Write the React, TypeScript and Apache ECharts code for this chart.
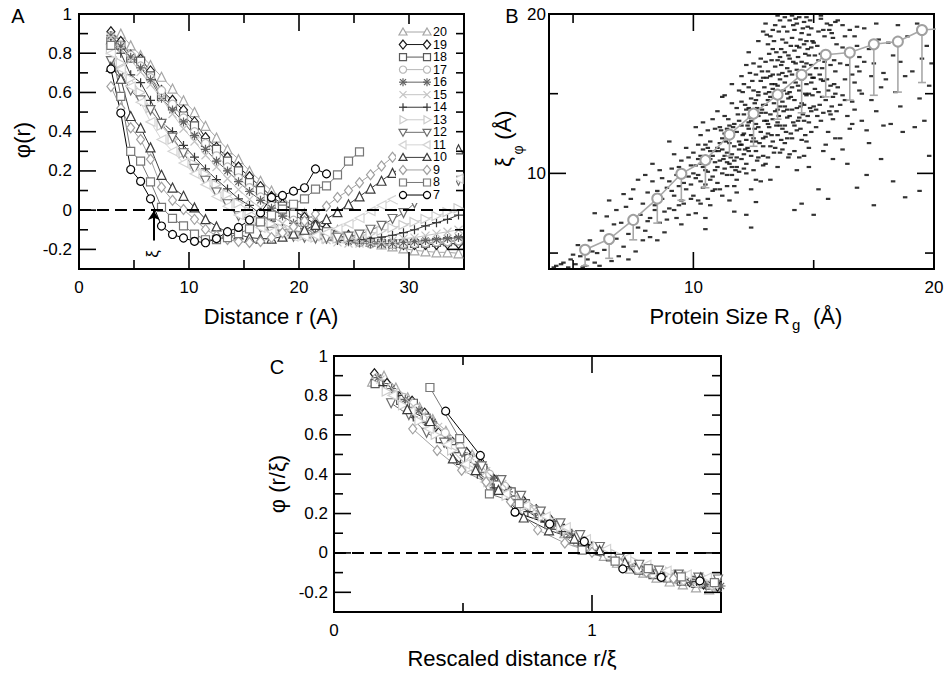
import React, { useEffect, useRef } from "react";
import * as echarts from "echarts";

const FONT = "'Liberation Sans', Arial, Helvetica, sans-serif";

// ---------- Panel A / C data ----------
const R_VALUES = [2.9, 3.8, 4.7, 5.6, 6.5, 7.5, 8.5, 9.5, 10.5, 11.5, 12.5, 13.5, 14.5, 15.5, 16.5, 17.5, 18.5, 19.5, 20.5, 21.5, 22.5, 23.5, 24.5, 25.5, 26.5, 27.5, 28.5, 29.5, 30.5, 31.5, 32.5, 33.5, 34.5];

const SIZE_LABELS = ["20", "19", "18", "17", "16", "15", "14", "13", "12", "11", "10", "9", "8", "7"];

const PHI_20 = [0.87, 0.9, 0.84, 0.79, 0.74, 0.68, 0.62, 0.56, 0.5, 0.43, 0.37, 0.31, 0.26, 0.2, 0.15, 0.1, 0.06, 0.02, -0.015, -0.05, -0.08, -0.1, -0.125, -0.145, -0.16, -0.175, -0.185, -0.195, -0.205, -0.21, -0.215, -0.215, -0.22];
const PHI_19 = [0.91, 0.86, 0.79, 0.77, 0.71, 0.61, 0.56, 0.51, 0.45, 0.37, 0.32, 0.27, 0.22, 0.17, 0.12, 0.07, 0.03, 0.0, -0.036, -0.073, -0.09, -0.112, -0.129, -0.146, -0.158, -0.168, -0.172, -0.175, -0.175, -0.175, -0.175, -0.172, -0.17];
const PHI_18 = [0.86, 0.84, 0.775, 0.76, 0.685, 0.58, 0.53, 0.48, 0.43, 0.345, 0.31, 0.25, 0.2, 0.14, 0.1, 0.06, 0.02, -0.02, -0.058, -0.087, -0.11, -0.127, -0.143, -0.155, -0.164, -0.17, -0.172, -0.172, -0.17, -0.168, -0.165, -0.16, -0.155];
const PHI_17 = [0.89, 0.84, 0.79, 0.735, 0.675, 0.61, 0.54, 0.47, 0.4, 0.34, 0.277, 0.22, 0.165, 0.115, 0.067, 0.023, -0.013, -0.051, -0.083, -0.107, -0.125, -0.142, -0.155, -0.165, -0.172, -0.175, -0.175, -0.172, -0.17, -0.167, -0.163, -0.16, -0.156];
const PHI_16 = [0.89, 0.835, 0.78, 0.725, 0.665, 0.57, 0.51, 0.45, 0.38, 0.31, 0.25, 0.2, 0.145, 0.095, 0.05, 0.01, -0.03, -0.067, -0.095, -0.117, -0.134, -0.15, -0.161, -0.168, -0.172, -0.172, -0.17, -0.165, -0.16, -0.155, -0.15, -0.145, -0.14];
const PHI_15 = [0.88, 0.82, 0.765, 0.705, 0.64, 0.57, 0.49, 0.415, 0.35, 0.28, 0.22, 0.16, 0.105, 0.055, 0.01, -0.03, -0.068, -0.097, -0.12, -0.138, -0.153, -0.164, -0.17, -0.17, -0.165, -0.16, -0.155, -0.145, -0.14, -0.13, -0.12, -0.11, -0.1];
const PHI_14 = [0.85, 0.8, 0.69, 0.65, 0.56, 0.45, 0.4, 0.33, 0.27, 0.21, 0.156, 0.108, 0.058, 0.024, -0.02, -0.056, -0.095, -0.12, -0.135, -0.145, -0.15, -0.155, -0.155, -0.15, -0.145, -0.138, -0.128, -0.115, -0.1, -0.08, -0.064, -0.047, -0.025];
const PHI_13 = [0.82, 0.75, 0.67, 0.6, 0.52, 0.43, 0.36, 0.29, 0.235, 0.185, 0.13, 0.08, 0.035, -0.005, -0.04, -0.07, -0.095, -0.115, -0.13, -0.14, -0.145, -0.145, -0.14, -0.13, -0.12, -0.105, -0.09, -0.075, -0.06, -0.045, -0.03, -0.01, 0.01];
const PHI_12 = [0.76, 0.7, 0.61, 0.56, 0.51, 0.44, 0.37, 0.29, 0.21, 0.15, 0.09, 0.03, -0.03, -0.06, -0.09, -0.11, -0.125, -0.135, -0.14, -0.145, -0.145, -0.14, -0.135, -0.125, -0.1, -0.08, -0.045, -0.015, 0.035, 0.07, 0.1, 0.13, 0.15];
const PHI_11 = [0.8, 0.72, 0.63, 0.55, 0.45, 0.36, 0.3, 0.24, 0.185, 0.13, 0.07, 0.02, -0.025, -0.06, -0.09, -0.11, -0.125, -0.135, -0.135, -0.13, -0.115, -0.095, -0.07, -0.04, -0.005, 0.025, 0.055, 0.085, 0.115, 0.14, 0.15, 0.155, 0.16];
const PHI_10 = [0.73, 0.67, 0.48, 0.42, 0.32, 0.18, 0.115, 0.073, 0.014, -0.046, -0.083, -0.114, -0.124, -0.14, -0.145, -0.145, -0.135, -0.12, -0.1, -0.075, -0.045, -0.01, 0.03, 0.07, 0.11, 0.15, 0.19, 0.22, 0.25, 0.27, 0.29, 0.3, 0.31];
const PHI_9 = [0.63, 0.52, 0.42, 0.36, 0.26, 0.117, 0.05, 0.003, -0.047, -0.098, -0.13, -0.15, -0.16, -0.165, -0.16, -0.14, -0.115, -0.085, -0.055, -0.02, 0.02, 0.065, 0.1, 0.14, 0.18, 0.225, 0.27, 0.31, 0.35];
const PHI_8 = [0.84, 0.58, 0.3, 0.25, 0.144, 0.014, -0.042, -0.08, -0.122, -0.151, -0.15, -0.14, -0.12, -0.095, -0.06, -0.025, 0.005, 0.03, 0.058, 0.107, 0.124, 0.18, 0.25, 0.297];
const PHI_7 = [0.72, 0.495, 0.207, 0.147, 0.058, -0.081, -0.124, -0.142, -0.159, -0.166, -0.145, -0.11, -0.088, -0.05, -0.014, 0.065, 0.075, 0.097, 0.114, 0.21, 0.185];

const PHI = [PHI_20, PHI_19, PHI_18, PHI_17, PHI_16, PHI_15, PHI_14, PHI_13, PHI_12, PHI_11, PHI_10, PHI_9, PHI_8, PHI_7];

// correlation length xi used for the rescaling of panel C
const XI_SCALE = [19.6, 18.5, 18.2, 17.4, 17.0, 16.1, 15.3, 14.2, 13.1, 12.8, 10.2, 9.5, 7.8, 6.7];

// ---------- Panel B data ----------
const RG_BINS = [5.5, 6.5, 7.5, 8.5, 9.5, 10.5, 11.5, 12.5, 13.5, 14.5, 15.5, 16.5, 17.5, 18.5, 19.5, 20.5];
const XI_MEAN = [5.21, 5.88, 7.08, 8.42, 9.98, 10.83, 12.44, 13.75, 14.94, 16.19, 17.44, 17.58, 18.1, 18.27, 19.0, 19.1];
const XI_LOW = [4.2, 4.67, 5.83, 6.88, 8.31, 9.1, 11.08, 11.7, 13.4, 13.8, 14.8, 14.6, 14.9, 15.1, 15.7];

const CLOUD = [
  [4.3, 4.2], [4.6, 4.4], [4.8, 4.1], [4.5, 4.3], [4.9, 4.6], [4.2, 4.1],
  [5.1, 4.3], [5.3, 4.8], [5.5, 4.2], [5.8, 5.1], [5.6, 4.6], [5.2, 5.5], [5.9, 4.4], [5.4, 4.1], [5.7, 5.8], [5.0, 4.9], [5.9, 7.5],
  [6.1, 4.2], [6.3, 5.2], [6.6, 4.5], [6.8, 5.9], [6.2, 6.4], [6.9, 4.8], [6.4, 7.3], [6.7, 6.8], [6.5, 5.6], [6.0, 5.0], [6.8, 7.7], [6.5, 8.3],
  [7.1, 5.4], [7.3, 6.2], [7.5, 7.0], [7.7, 6.6], [7.2, 7.9], [7.9, 5.8], [7.4, 8.4], [7.6, 5.1], [7.8, 7.4], [7.0, 6.9], [7.5, 9.0], [7.9, 8.1], [7.3, 4.6], [7.7, 9.6], [7.1, 8.7],
  [8.0, 6.4], [8.2, 7.2], [8.4, 8.0], [8.6, 6.9], [8.8, 7.6], [8.1, 8.8], [8.3, 9.5], [8.5, 5.8], [8.7, 8.4], [8.9, 9.1], [8.2, 6.0], [8.4, 7.7], [8.6, 10.2], [8.8, 6.3], [8.0, 9.9], [8.5, 8.9], [8.9, 7.1], [8.3, 10.6], [8.7, 9.7], [8.1, 7.0],
  [9.0, 7.8], [9.2, 8.6], [9.4, 9.2], [9.6, 8.1], [9.8, 9.8], [9.1, 10.3], [9.3, 7.2], [9.5, 10.8], [9.7, 9.0], [9.9, 8.4], [9.0, 9.5], [9.2, 11.2], [9.4, 8.0], [9.6, 10.0], [9.8, 7.4], [9.1, 8.9], [9.3, 9.9], [9.5, 6.8], [9.7, 11.6], [9.9, 10.5], [9.2, 7.7], [9.6, 9.4], [9.8, 11.0], [9.4, 10.4], [9.0, 12.0], [9.5, 8.3], [9.9, 9.3],
  [10.0, 8.6], [10.1, 9.7], [10.2, 10.9], [10.3, 8.1], [10.4, 11.5], [10.5, 9.3], [10.6, 10.1], [10.7, 12.0], [10.8, 8.9], [10.9, 10.7], [10.0, 11.3], [10.1, 7.5], [10.2, 9.9], [10.3, 12.4], [10.4, 10.4], [10.5, 11.8], [10.6, 8.4], [10.7, 9.6], [10.8, 11.1], [10.9, 12.8], [10.0, 10.0], [10.1, 12.9], [10.2, 8.3], [10.3, 10.6], [10.4, 9.1], [10.5, 10.2], [10.6, 11.6], [10.7, 10.9], [10.8, 9.8], [10.9, 9.0], [10.2, 11.8], [10.5, 7.2], [10.8, 13.4], [10.3, 9.5], [10.6, 12.7], [10.9, 11.4], [10.1, 10.5], [10.4, 13.2], [10.7, 8.0], [10.5, 6.5],
  [11.0, 9.4], [11.1, 10.8], [11.2, 12.2], [11.3, 11.1], [11.4, 9.9], [11.5, 13.0], [11.6, 10.4], [11.7, 11.7], [11.8, 12.6], [11.9, 10.1], [11.0, 11.6], [11.1, 12.9], [11.2, 10.0], [11.3, 13.6], [11.4, 11.3], [11.5, 10.6], [11.6, 12.3], [11.7, 9.2], [11.8, 11.0], [11.9, 13.3], [11.0, 13.9], [11.1, 9.0], [11.2, 11.5], [11.3, 10.3], [11.4, 12.8], [11.5, 11.9], [11.6, 14.4], [11.7, 10.8], [11.8, 9.6], [11.9, 12.0], [11.2, 14.8], [11.5, 8.3], [11.8, 14.1], [11.1, 11.9], [11.4, 10.7], [11.7, 13.1], [11.3, 12.5], [11.6, 11.2], [11.9, 15.2], [11.0, 10.4], [11.5, 12.4], [11.8, 10.4], [11.2, 8.6], [11.7, 7.6], [11.9, 11.5],
  [12.0, 10.9], [12.1, 12.5], [12.2, 14.0], [12.3, 11.4], [12.4, 13.3], [12.5, 10.2], [12.6, 12.0], [12.7, 15.1], [12.8, 13.8], [12.9, 11.7], [12.0, 13.0], [12.1, 15.6], [12.2, 10.6], [12.3, 12.8], [12.4, 14.7], [12.5, 12.2], [12.6, 16.2], [12.7, 11.0], [12.8, 12.6], [12.9, 14.3], [12.0, 11.8], [12.1, 13.7], [12.2, 12.1], [12.3, 15.4], [12.4, 11.1], [12.5, 13.9], [12.6, 14.6], [12.7, 12.9], [12.8, 9.5], [12.9, 16.0], [12.0, 14.5], [12.1, 10.3], [12.2, 16.8], [12.3, 13.2], [12.4, 12.4], [12.5, 15.2], [12.6, 11.4], [12.7, 13.6], [12.8, 15.8], [12.9, 12.2], [12.4, 9.0], [12.6, 8.2], [12.2, 7.4], [12.8, 17.2], [12.5, 16.9], [12.3, 14.1], [12.7, 14.9], [12.9, 10.5], [12.1, 11.2], [12.6, 13.1], [12.4, 6.6], [12.0, 16.1],
  [13.0, 12.3], [13.1, 14.6], [13.2, 16.1], [13.3, 13.4], [13.4, 11.6], [13.5, 15.5], [13.6, 17.3], [13.7, 12.8], [13.8, 14.2], [13.9, 16.6], [13.0, 15.0], [13.1, 11.0], [13.2, 13.7], [13.3, 17.8], [13.4, 14.9], [13.5, 12.4], [13.6, 15.9], [13.7, 18.4], [13.8, 11.9], [13.9, 13.5], [13.0, 17.0], [13.1, 13.1], [13.2, 14.8], [13.3, 12.0], [13.4, 16.7], [13.5, 14.0], [13.6, 13.0], [13.7, 16.3], [13.8, 17.6], [13.9, 15.0], [13.0, 10.6], [13.1, 16.4], [13.2, 18.6], [13.3, 15.3], [13.4, 13.9], [13.5, 17.1], [13.6, 11.3], [13.7, 14.5], [13.8, 15.7], [13.9, 18.9], [13.0, 13.8], [13.2, 11.7], [13.4, 19.3], [13.6, 14.2], [13.8, 13.0], [13.1, 18.1], [13.3, 16.2], [13.5, 10.4], [13.7, 17.0], [13.9, 12.2], [13.2, 9.6], [13.6, 19.6], [13.4, 15.6], [13.0, 14.3], [13.8, 19.8], [13.5, 13.2], [13.9, 14.0], [13.1, 12.5], [13.7, 11.5], [13.3, 19.0],
  [14.0, 13.6], [14.1, 15.4], [14.2, 17.7], [14.3, 12.7], [14.4, 16.0], [14.5, 18.8], [14.6, 14.3], [14.7, 16.9], [14.8, 13.2], [14.9, 15.7], [14.0, 17.2], [14.1, 12.2], [14.2, 14.6], [14.3, 19.4], [14.4, 13.5], [14.5, 15.9], [14.6, 18.1], [14.7, 12.0], [14.8, 17.4], [14.9, 19.1], [14.0, 15.1], [14.1, 18.5], [14.2, 11.4], [14.3, 16.5], [14.4, 19.8], [14.5, 14.4], [14.6, 16.7], [14.7, 14.9], [14.8, 18.7], [14.9, 12.6], [14.0, 19.6], [14.1, 16.2], [14.2, 13.0], [14.3, 14.1], [14.4, 17.9], [14.5, 12.1], [14.6, 19.5], [14.7, 15.6], [14.8, 15.0], [14.9, 16.8], [14.0, 11.2], [14.2, 19.0], [14.4, 11.0], [14.6, 13.3], [14.8, 11.6], [14.1, 14.0], [14.3, 18.0], [14.5, 17.0], [14.7, 18.3], [14.9, 13.9], [14.5, 8.1], [14.2, 7.7], [14.8, 10.4], [14.3, 10.2], [14.6, 11.1], [14.0, 16.4], [14.9, 17.9], [14.4, 15.2],
  [15.0, 14.2], [15.1, 16.6], [15.2, 18.9], [15.3, 13.3], [15.4, 15.8], [15.5, 17.6], [15.6, 12.6], [15.7, 19.3], [15.8, 14.8], [15.9, 16.4], [15.0, 18.2], [15.1, 12.9], [15.2, 15.1], [15.3, 19.7], [15.4, 13.8], [15.5, 14.6], [15.6, 17.3], [15.7, 15.5], [15.8, 18.5], [15.9, 12.2], [15.0, 16.0], [15.2, 17.1], [15.4, 19.0], [15.6, 15.2], [15.8, 13.4], [15.1, 14.0], [15.3, 17.5], [15.5, 11.8], [15.7, 16.8], [15.9, 19.5], [15.4, 11.4], [15.8, 10.9], [15.2, 9.0], [15.6, 8.4], [15.0, 7.4], [15.9, 15.0], [15.3, 15.9], [15.7, 13.7],
  [16.0, 15.4], [16.2, 17.9], [16.4, 13.6], [16.6, 16.2], [16.8, 19.2], [16.1, 14.3], [16.3, 18.6], [16.5, 12.8], [16.7, 15.7], [16.9, 17.3], [16.0, 19.6], [16.2, 14.9], [16.4, 16.8], [16.6, 13.1], [16.8, 18.0], [16.1, 12.2], [16.3, 15.9], [16.5, 19.0], [16.7, 14.0], [16.9, 16.4], [16.4, 10.6], [16.8, 9.1], [16.2, 11.5], [16.6, 17.6],
  [17.0, 15.0], [17.3, 17.8], [17.6, 13.9], [17.9, 16.3], [17.1, 19.1], [17.4, 14.6], [17.7, 18.4], [17.2, 12.7], [17.5, 16.9], [17.8, 15.4], [17.0, 13.3], [17.6, 19.4], [17.3, 11.9], [17.9, 13.0], [17.5, 8.0], [17.2, 9.9], [17.8, 10.9],
  [18.0, 15.9], [18.3, 17.4], [18.6, 14.2], [18.9, 18.6], [18.2, 13.1], [18.5, 19.3], [18.8, 16.1], [18.1, 18.2], [18.4, 15.1], [18.7, 12.6], [18.3, 9.5], [18.8, 8.5], [18.6, 17.0],
  [19.1, 16.4], [19.4, 14.7], [19.7, 18.0], [19.2, 12.9], [19.5, 17.2], [19.8, 15.5], [19.3, 19.4], [19.6, 13.3], [19.9, 16.9], [19.4, 8.9], [19.8, 11.1],
];

// the densest part of the cloud
const CLOUD_CORE = [
  [11.05, 11.4], [11.15, 12.7], [11.25, 10.9], [11.35, 12.0], [11.45, 13.4], [11.55, 11.0], [11.65, 12.9], [11.75, 10.2], [11.85, 13.7], [11.95, 11.8],
  [12.05, 12.4], [12.15, 14.3], [12.25, 11.6], [12.35, 13.5], [12.45, 15.8], [12.55, 12.8], [12.65, 14.1], [12.75, 11.9], [12.85, 16.4], [12.95, 13.3],
  [12.05, 15.1], [12.15, 11.5], [12.25, 13.0], [12.35, 16.3], [12.45, 12.0], [12.55, 14.4], [12.65, 10.8], [12.75, 16.7], [12.85, 14.0], [12.95, 15.4],
  [13.05, 16.0], [13.15, 12.9], [13.25, 15.6], [13.35, 14.4], [13.45, 17.6], [13.55, 13.6], [13.65, 16.8], [13.75, 15.2], [13.85, 12.6], [13.95, 17.4],
  [13.05, 13.3], [13.15, 17.5], [13.25, 12.4], [13.35, 18.3], [13.45, 15.0], [13.55, 16.2], [13.65, 12.1], [13.75, 19.2], [13.85, 16.1], [13.95, 14.7],
  [13.05, 18.7], [13.15, 15.1], [13.25, 17.1], [13.35, 11.3], [13.45, 13.0], [13.55, 18.9], [13.65, 17.8], [13.75, 13.9], [13.85, 18.2], [13.95, 11.0],
  [14.05, 14.8], [14.15, 17.0], [14.25, 15.7], [14.35, 13.3], [14.45, 18.4], [14.55, 16.3], [14.65, 15.0], [14.75, 19.2], [14.85, 14.1], [14.95, 18.3],
  [14.05, 18.0], [14.15, 13.2], [14.25, 19.7], [14.35, 15.5], [14.45, 14.2], [14.55, 19.1], [14.65, 17.5], [14.75, 13.6], [14.85, 16.2], [14.95, 14.9],
  [14.05, 12.5], [14.15, 19.3], [14.25, 16.9], [14.35, 17.3], [14.45, 12.8], [14.55, 13.7], [14.65, 12.4], [14.75, 17.8], [14.85, 19.6], [14.95, 16.0],
  [15.05, 15.3], [15.15, 18.0], [15.25, 14.3], [15.35, 16.6], [15.45, 18.6], [15.55, 15.9], [15.65, 19.0], [15.75, 14.2], [15.85, 17.1], [15.95, 18.1],
  [15.05, 17.4], [15.15, 13.6], [15.25, 16.2], [15.35, 14.8], [15.45, 17.0], [15.55, 19.4], [15.65, 13.9], [15.75, 18.8], [15.85, 15.6], [15.95, 13.9],
  [12.2, 10.0], [12.6, 9.6], [11.4, 9.2], [11.8, 8.8], [10.6, 10.7], [10.9, 10.2], [10.3, 11.1], [10.7, 11.4], [11.6, 9.9], [12.9, 11.1],
  [16.1, 16.9], [16.3, 14.6], [16.5, 17.8], [16.7, 18.6], [16.9, 15.2], [16.2, 19.3], [16.6, 14.5], [16.8, 16.7], [17.1, 17.0], [17.4, 16.1],
  [13.5, 19.9], [14.1, 19.9], [14.7, 19.8], [15.3, 19.9], [12.7, 18.3], [12.3, 17.6], [13.0, 19.4], [12.9, 18.9], [11.6, 15.6], [11.3, 14.9],
];

// ---------- axis tick values ----------
const PHI_LABELS = [-0.2, 0, 0.2, 0.4, 0.6, 0.8, 1];
const PHI_MAJOR = [-0.2, 0, 0.2, 0.4, 0.6, 0.8];
const PHI_MINOR = [-0.1, 0.1, 0.3, 0.5, 0.7, 0.9];
const R_LABELS = [0, 10, 20, 30];
const R_MAJOR = [10, 20, 30];
const R_MINOR = [5, 15, 25];
const RG_LABELS = [10, 20];
const RG_MAJOR = [10];
const RG_MINOR = [5, 15];
const XS_LABELS = [0, 1];
const XS_MAJOR = [1];
const XS_MINOR = [0.5];

// ---------- styles ----------
const MARK_KIND = ["tri", "diamond", "square", "circle", "star", "cross", "plus", "triRight", "triDown", "triLeft", "tri", "diamond", "square", "circle"];
const MARK_COLOR = ["#a6a6a6", "#1a1a1a", "#5a5a5a", "#b8b8b8", "#626262", "#c4c4c4", "#383838", "#cccccc", "#6e6e6e", "#d4d4d4", "#3c3c3c", "#a0a0a0", "#777777", "#000000"];

const SYMBOLS: Record<string, any> = {
  tri: { symbol: "triangle", rotate: 0, size: 9 },
  triDown: { symbol: "triangle", rotate: 180, size: 9 },
  triRight: { symbol: "triangle", rotate: -90, size: 9 },
  triLeft: { symbol: "triangle", rotate: 90, size: 9 },
  diamond: { symbol: "diamond", rotate: 0, size: [8, 10] },
  square: { symbol: "rect", rotate: 0, size: 8 },
  circle: { symbol: "circle", rotate: 0, size: 8 },
  star: { symbol: "path://M5 0L5 10M0 5L10 5M1.5 1.5L8.5 8.5M1.5 8.5L8.5 1.5", rotate: 0, size: 9 },
  cross: { symbol: "path://M0 0L10 10M0 10L10 0", rotate: 0, size: 8 },
  plus: { symbol: "path://M5 0L5 10M0 5L10 5", rotate: 0, size: 9 },
};

function markerElements(kind: string, cx: number, cy: number, color: string): any[] {
  const style = { fill: "#fff", stroke: color, lineWidth: 1.2 };
  const ls = { stroke: color, lineWidth: 1.2 };
  const z = 102;
  const ln = (x1: number, y1: number, x2: number, y2: number) => ({ type: "line", z, shape: { x1, y1, x2, y2 }, style: ls });
  switch (kind) {
    case "tri":
      return [{ type: "polygon", z, shape: { points: [[cx, cy - 4], [cx + 4, cy + 3], [cx - 4, cy + 3]] }, style }];
    case "triDown":
      return [{ type: "polygon", z, shape: { points: [[cx, cy + 4], [cx + 4, cy - 3], [cx - 4, cy - 3]] }, style }];
    case "triRight":
      return [{ type: "polygon", z, shape: { points: [[cx + 4, cy], [cx - 3, cy - 4], [cx - 3, cy + 4]] }, style }];
    case "triLeft":
      return [{ type: "polygon", z, shape: { points: [[cx - 4, cy], [cx + 3, cy - 4], [cx + 3, cy + 4]] }, style }];
    case "diamond":
      return [{ type: "polygon", z, shape: { points: [[cx, cy - 4.5], [cx + 3.7, cy], [cx, cy + 4.5], [cx - 3.7, cy]] }, style }];
    case "square":
      return [{ type: "rect", z, shape: { x: cx - 3.5, y: cy - 3.5, width: 7, height: 7 }, style }];
    case "circle":
      return [{ type: "circle", z, shape: { cx, cy, r: 3.6 }, style }];
    case "plus":
      return [ln(cx - 4, cy, cx + 4, cy), ln(cx, cy - 4, cx, cy + 4)];
    case "cross":
      return [ln(cx - 3.5, cy - 3.5, cx + 3.5, cy + 3.5), ln(cx - 3.5, cy + 3.5, cx + 3.5, cy - 3.5)];
    default:
      return [
        ln(cx - 4, cy, cx + 4, cy), ln(cx, cy - 4, cx, cy + 4),
        ln(cx - 3, cy - 3, cx + 3, cy + 3), ln(cx - 3, cy + 3, cx + 3, cy - 3),
      ];
  }
}

function axis(gridIndex: number, position: string, min: number, max: number, labels: number[], margin: number) {
  return {
    gridIndex, type: "value", position, min, max,
    axisLine: { show: false, onZero: false },
    axisTick: { show: false },
    splitLine: { show: false },
    axisLabel: {
      show: true, customValues: labels, margin, fontSize: 17, fontFamily: FONT, color: "#000",
      formatter: (v: number) => String(Math.round(v * 10) / 10),
    },
  };
}

function text(t: string, x: number, y: number, size: number, extra: any = {}) {
  return {
    type: "text", x, y, z: 100, rotation: extra.rotation || 0,
    style: {
      text: t, fontSize: size, fontFamily: FONT, fill: "#000",
      textAlign: extra.align || "center", align: extra.align || "center",
      textVerticalAlign: "middle", verticalAlign: "middle",
    },
  };
}

export default function App() {
  const ref = useRef<HTMLDivElement>(null);
  useEffect(() => {
    if (!ref.current) return;
    const chart = echarts.init(ref.current, undefined, { renderer: "svg" });

    const lineSeries = (i: number, axisIdx: number, data: number[][]) => {
      const s = SYMBOLS[MARK_KIND[i]];
      const c = MARK_COLOR[i];
      return {
        type: "line", name: SIZE_LABELS[i], xAxisIndex: axisIdx, yAxisIndex: axisIdx, data,
        symbol: s.symbol, symbolSize: s.size, symbolRotate: s.rotate, showSymbol: true,
        lineStyle: { color: c, width: 1 },
        itemStyle: { color: "#fff", borderColor: c, borderWidth: 1.2 },
        z: 2,
      };
    };

    const seriesA: any[] = PHI.map((vals, i) => lineSeries(i, 0, vals.map((v, j) => [R_VALUES[j], v])));
    const seriesC: any[] = PHI.map((vals, i) => lineSeries(i, 2, vals.map((v, j) => [R_VALUES[j] / XI_SCALE[i], v])));

    const zeroLine = { yAxis: 0, lineStyle: { type: [12, 6], width: 2, color: "#000" } };
    seriesA[seriesA.length - 1].markLine = {
      silent: true, symbol: ["none", "none"], label: { show: false },
      lineStyle: { type: "solid", color: "#000", width: 2 },
      data: [
        zeroLine,
        [
          { coord: [6.8, -0.155], symbol: "none", lineStyle: { type: "solid", width: 2, color: "#000" } },
          { coord: [6.8, -0.004], symbol: "arrow", symbolSize: 9, lineStyle: { type: "solid", width: 2, color: "#000" } },
        ],
      ],
    };
    seriesC[seriesC.length - 1].markLine = {
      silent: true, symbol: ["none", "none"], label: { show: false },
      data: [zeroLine],
    };

    const seriesB: any[] = [
      {
        type: "scatter", xAxisIndex: 1, yAxisIndex: 1, data: [...CLOUD, ...CLOUD_CORE],
        symbol: "rect", symbolSize: [4.5, 2.2], itemStyle: { color: "#000" }, z: 2,
      },
      {
        type: "custom", xAxisIndex: 1, yAxisIndex: 1,
        data: XI_LOW.map((lo, i) => [RG_BINS[i], XI_MEAN[i], lo]),
        encode: { x: 0, y: [1, 2] },
        renderItem: (_p: any, api: any) => {
          const top = api.coord([api.value(0), api.value(1)]);
          const bot = api.coord([api.value(0), api.value(2)]);
          const st = { stroke: "#a8a8a8", lineWidth: 1.6 };
          return {
            type: "group",
            children: [
              { type: "line", shape: { x1: top[0], y1: top[1], x2: bot[0], y2: bot[1] }, style: st },
              { type: "line", shape: { x1: bot[0] - 4, y1: bot[1], x2: bot[0] + 4, y2: bot[1] }, style: st },
            ],
          };
        },
        z: 3,
      },
      {
        type: "line", xAxisIndex: 1, yAxisIndex: 1,
        data: RG_BINS.map((x, i) => [x, XI_MEAN[i]]),
        symbol: "circle", symbolSize: 10,
        lineStyle: { color: "#a8a8a8", width: 1.6 },
        itemStyle: { color: "#fff", borderColor: "#a0a0a0", borderWidth: 2 },
        z: 4,
      },
    ];

    const gridStyle = { show: true, borderColor: "#000", borderWidth: 2 };

    chart.setOption({
      animation: false,
      grid: [
        { left: 79, top: 14, width: 385, height: 255, ...gridStyle },
        { left: 549, top: 14, width: 385, height: 255, ...gridStyle },
        { left: 334, top: 356, width: 387, height: 256, ...gridStyle },
      ],
      xAxis: [
        axis(0, "bottom", 0, 35, R_LABELS, 10),
        axis(1, "bottom", 4, 20, RG_LABELS, 10),
        axis(2, "bottom", 0, 1.5, XS_LABELS, 10),
      ],
      yAxis: [
        axis(0, "left", -0.3, 1, PHI_LABELS, 7),
        axis(1, "left", 4, 20, RG_LABELS, 3),
        axis(2, "left", -0.3, 1, PHI_LABELS, 6),
      ],
      series: [...seriesA, ...seriesB, ...seriesC],
    });

    // ----- tick marks: positions come from the axis scales via convertToPixel -----
    const tickEls: any[] = [];
    const tickStyle = { stroke: "#000", lineWidth: 1.6 };
    const addTicks = (g: number, xr: number[], yr: number[], xMaj: number[], xMin: number[], yMaj: number[], yMin: number[]) => {
      const conv = (pt: number[]) => chart.convertToPixel({ gridIndex: g } as any, pt) as unknown as number[];
      const bl = conv([xr[0], yr[0]]);
      const tr = conv([xr[1], yr[1]]);
      if (!bl || !tr) return;
      const left = bl[0], bottom = bl[1], right = tr[0], top = tr[1];
      const xs = [...xMaj.map((v) => [v, 17]), ...xMin.map((v) => [v, 9])];
      const ys = [...yMaj.map((v) => [v, 17]), ...yMin.map((v) => [v, 9])];
      xs.forEach(([v, len]) => {
        const x = conv([v, yr[0]])[0];
        tickEls.push({ type: "line", z: 98, silent: true, shape: { x1: x, y1: bottom, x2: x, y2: bottom - len }, style: tickStyle });
        tickEls.push({ type: "line", z: 98, silent: true, shape: { x1: x, y1: top, x2: x, y2: top + len }, style: tickStyle });
      });
      ys.forEach(([v, len]) => {
        const y = conv([xr[0], v])[1];
        tickEls.push({ type: "line", z: 98, silent: true, shape: { x1: left, y1: y, x2: left + len, y2: y }, style: tickStyle });
        tickEls.push({ type: "line", z: 98, silent: true, shape: { x1: right, y1: y, x2: right - len, y2: y }, style: tickStyle });
      });
    };
    try {
      addTicks(0, [0, 35], [-0.3, 1], R_MAJOR, R_MINOR, PHI_MAJOR, PHI_MINOR);
      addTicks(1, [4, 20], [4, 20], RG_MAJOR, RG_MINOR, RG_MAJOR, RG_MINOR);
      addTicks(2, [0, 1.5], [-0.3, 1], XS_MAJOR, XS_MINOR, PHI_MAJOR, PHI_MINOR);
    } catch (e) {
      // keep the chart even if conversion is unavailable
    }

    const graphic: any[] = [...tickEls];
    // legend box of panel A
    graphic.push({ type: "rect", z: 99, shape: { x: 396, y: 24, width: 60, height: 179 }, style: { fill: "#fff", stroke: "none" } });
    SIZE_LABELS.forEach((lab, i) => {
      const y = 32 + 12.54 * i;
      const c = MARK_COLOR[i];
      graphic.push({ type: "line", z: 101, shape: { x1: 403, y1: y, x2: 427, y2: y }, style: { stroke: c, lineWidth: 1 } });
      graphic.push(...markerElements(MARK_KIND[i], 403, y, c));
      graphic.push(...markerElements(MARK_KIND[i], 427, y, c));
      graphic.push(text(lab, 433, y, 12.5, { align: "left" }));
    });
    // panel letters
    graphic.push(text("A", 18, 16, 20));
    graphic.push(text("B", 512, 16, 20));
    graphic.push(text("C", 277, 367, 20));
    // axis titles
    graphic.push(text("Distance r (A)", 271, 316, 22));
    graphic.push(text("φ(r)", 22, 140, 22, { rotation: Math.PI / 2 }));
    graphic.push(text("ξ", 152, 254, 17, { rotation: Math.PI / 2 }));
    graphic.push(text("Protein Size R", 790, 316, 22, { align: "right" }));
    graphic.push(text("g", 792, 324, 15, { align: "left" }));
    graphic.push(text("(Å)", 813, 316, 22, { align: "left" }));
    graphic.push(text("ξ", 503, 162, 22, { rotation: Math.PI / 2 }));
    graphic.push(text("φ", 518, 150, 14, { rotation: Math.PI / 2 }));
    graphic.push(text("(Å)", 503, 125, 22, { rotation: Math.PI / 2 }));
    graphic.push(text("Rescaled distance r/ξ", 512, 658, 22));
    graphic.push(text("φ (r/ξ)", 277, 484, 22, { rotation: Math.PI / 2 }));

    chart.setOption({ graphic: { elements: graphic } });
    return () => chart.dispose();
  }, []);

  return <div ref={ref} style={{ position: "fixed", left: 0, top: 0, width: 951, height: 673, background: "#fff" }} />;
}
